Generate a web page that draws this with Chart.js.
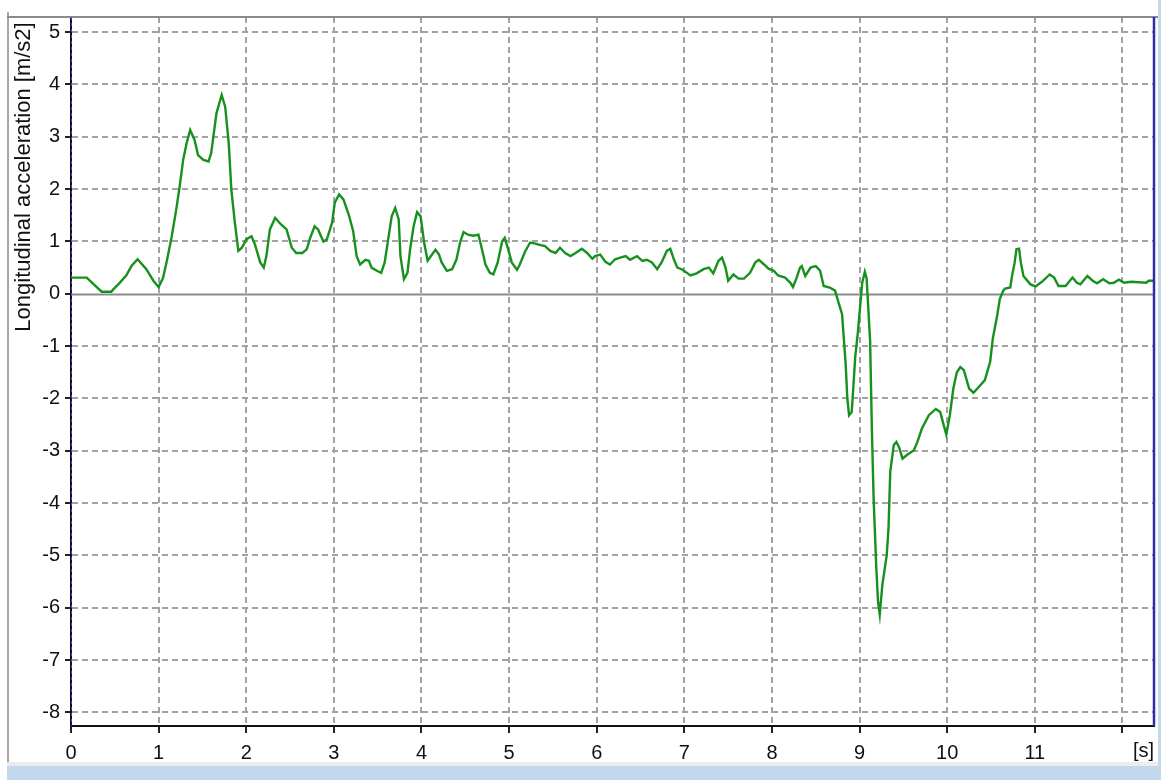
<!DOCTYPE html>
<html>
<head>
<meta charset="utf-8">
<script src="https://cdn.jsdelivr.net/npm/chart.js@4.4.1/dist/chart.umd.min.js"></script>
<style>
  html, body { margin: 0; padding: 0; background: #ffffff; width: 1161px; height: 780px; overflow: hidden; }
  #wrap { position: relative; width: 1161px; height: 780px; }
  #c { position: absolute; left: 0; top: 0; }
  .frame { position: absolute; }
</style>
</head>
<body>
<div id="wrap">
  <div class="frame" style="left:7px;top:12px;width:2px;height:751px;background:#a6a6a6;"></div>
  <div class="frame" style="left:7px;top:762px;width:1154px;height:4px;background:#ececec;"></div>
  <div class="frame" style="left:7px;top:766px;width:1154px;height:14px;background:#c3d7ee;"></div>
  <div class="frame" style="left:1158px;top:0px;width:3px;height:780px;background:#c3d7ee;"></div>
  <canvas id="c" width="1161" height="780"></canvas>
</div>
<script>
// ---- Data ----
const timeS = [
  0, 0.18, 0.26, 0.35, 0.46, 0.48, 0.55, 0.63, 0.69, 0.76, 0.86, 0.94, 1.0, 1.05, 1.09,
  1.15, 1.2, 1.24, 1.28, 1.32, 1.36, 1.41, 1.45, 1.51, 1.57, 1.6, 1.62, 1.66, 1.72, 1.76,
  1.8, 1.83, 1.87, 1.91, 1.95, 2.0, 2.06, 2.1, 2.16, 2.2, 2.23, 2.27, 2.33, 2.4, 2.46,
  2.52, 2.57, 2.64, 2.69, 2.73, 2.78, 2.82, 2.88, 2.92, 2.98, 3.01, 3.06, 3.11, 3.17, 3.22,
  3.26, 3.3, 3.36, 3.4, 3.43, 3.49, 3.54, 3.58, 3.62, 3.66, 3.7, 3.74, 3.76, 3.8, 3.84,
  3.87, 3.91, 3.95, 3.99, 4.03, 4.07, 4.12, 4.16, 4.2, 4.23, 4.29, 4.35, 4.4, 4.44, 4.48,
  4.53, 4.59, 4.65, 4.69, 4.73, 4.78, 4.82, 4.87, 4.92, 4.95, 4.99, 5.03, 5.09, 5.12, 5.18,
  5.24, 5.3, 5.36, 5.41, 5.47, 5.53, 5.58, 5.64, 5.7, 5.75, 5.83, 5.89, 5.95, 5.98, 6.04,
  6.1, 6.15, 6.21, 6.27, 6.33, 6.38, 6.46, 6.52, 6.57, 6.63, 6.69, 6.74, 6.8, 6.84, 6.88,
  6.92, 6.97, 7.03, 7.07, 7.14, 7.22, 7.28, 7.33, 7.39, 7.43, 7.47, 7.5, 7.56, 7.62, 7.68,
  7.75, 7.81, 7.85, 7.91, 7.96, 8.02, 8.07, 8.15, 8.21, 8.24, 8.28, 8.32, 8.34, 8.38, 8.44,
  8.5, 8.55, 8.59, 8.66, 8.72, 8.76, 8.8, 8.82, 8.84, 8.86, 8.88, 8.91, 8.93, 8.95, 8.98,
  9.0, 9.03, 9.06, 9.08, 9.09, 9.12, 9.14, 9.16, 9.19, 9.21, 9.23, 9.26, 9.31, 9.33, 9.35,
  9.39, 9.42, 9.45, 9.49, 9.54, 9.62, 9.66, 9.71, 9.79, 9.87, 9.92, 9.96, 9.99, 10.03, 10.07,
  10.11, 10.15, 10.19, 10.25, 10.3, 10.36, 10.43, 10.49, 10.52, 10.57, 10.6, 10.64, 10.66, 10.72, 10.74,
  10.77, 10.79, 10.82, 10.84, 10.87, 10.95, 11.01, 11.08, 11.17, 11.22, 11.27, 11.35, 11.43, 11.48, 11.52,
  11.6, 11.66, 11.71, 11.78, 11.85, 11.9, 11.96, 12.02, 12.1, 12.27, 12.3, 12.36
];
const accel = [
  0.31, 0.31, 0.18, 0.04, 0.04, 0.08, 0.2, 0.35, 0.53, 0.66, 0.47, 0.25, 0.13, 0.3, 0.6,
  1.1, 1.6, 2.05, 2.56, 2.88, 3.13, 2.94, 2.65, 2.56, 2.53, 2.69, 2.94, 3.45, 3.8, 3.57,
  2.88, 1.99, 1.36, 0.82, 0.88, 1.04, 1.1, 0.94, 0.6, 0.5, 0.72, 1.23, 1.45, 1.32, 1.23,
  0.88, 0.78, 0.78, 0.85, 1.07, 1.29, 1.23, 1.0, 1.04, 1.36, 1.74, 1.9, 1.8, 1.51, 1.2,
  0.72, 0.56, 0.65, 0.63, 0.5, 0.44, 0.4, 0.6, 1.04, 1.48, 1.64, 1.42, 0.72, 0.28, 0.4,
  0.85, 1.29, 1.56, 1.48, 0.98, 0.63, 0.75, 0.84, 0.75, 0.6, 0.44, 0.47, 0.66, 0.98, 1.18,
  1.13, 1.11, 1.13, 0.85, 0.56, 0.4, 0.37, 0.6, 1.0, 1.07, 0.85, 0.6, 0.46, 0.55, 0.8,
  0.98, 0.96, 0.93, 0.91, 0.82, 0.78, 0.88, 0.78, 0.72, 0.77, 0.86, 0.78, 0.67, 0.72, 0.75,
  0.61, 0.56, 0.66, 0.69, 0.72, 0.65, 0.72, 0.63, 0.65, 0.6, 0.47, 0.6, 0.82, 0.86, 0.66,
  0.5, 0.47, 0.4, 0.35, 0.39, 0.47, 0.5, 0.39, 0.63, 0.69, 0.5, 0.25, 0.37, 0.29, 0.29,
  0.4, 0.6, 0.65, 0.56, 0.48, 0.44, 0.35, 0.31, 0.21, 0.13, 0.3, 0.5, 0.53, 0.34, 0.5,
  0.53, 0.44, 0.15, 0.12, 0.06, -0.17, -0.39, -0.86, -1.31, -2.0, -2.32, -2.26, -1.75, -1.21, -0.74,
  -0.36, 0.21, 0.42, 0.3, 0.0, -0.9, -2.58, -3.91, -5.21, -5.88, -6.13, -5.56, -4.99, -4.48, -3.4,
  -2.89, -2.83, -2.93, -3.15, -3.08, -2.99, -2.83, -2.58, -2.32, -2.2, -2.26, -2.51, -2.69, -2.32, -1.81,
  -1.5, -1.4, -1.46, -1.81, -1.89, -1.78, -1.65, -1.3, -0.86, -0.42, -0.1, 0.06, 0.1, 0.12, 0.34,
  0.6, 0.85, 0.86, 0.6, 0.34, 0.18, 0.14, 0.23, 0.37, 0.31, 0.15, 0.15, 0.31, 0.21, 0.18,
  0.34, 0.25, 0.2, 0.28, 0.2, 0.21, 0.27, 0.21, 0.23, 0.21, 0.25, 0.25
];
const xTickValues = [0, 1, 2, 3, 4, 5, 6, 7, 8, 9, 10, 11, 12];
const xTickLabels = ['0', '1', '2', '3', '4', '5', '6', '7', '8', '9', '10', '11', ''];
const xUnitLabel = '[s]';
const yTickValues = [-8, -7, -6, -5, -4, -3, -2, -1, 0, 1, 2, 3, 4, 5];
const yTitle = 'Longitudinal acceleration [m/s2]';
const xRange = [0, 12.36];
const yRange = [-8.26, 5.29];

// ---- Chart ----
const FONT = 'Liberation Sans, Arial, sans-serif';
const points = timeS.map((t, i) => ({ x: t, y: accel[i] }));

const extras = {
  id: 'extras',
  beforeDatasetsDraw(chart) {
    const { ctx, chartArea: a, scales: { y } } = chart;
    const y0 = Math.round(y.getPixelForValue(0)) + 0.5;
    ctx.save();
    ctx.strokeStyle = '#8c8c8c';
    ctx.lineWidth = 2;
    ctx.beginPath();
    ctx.moveTo(a.left, y0);
    ctx.lineTo(a.right, y0);
    ctx.stroke();
    ctx.restore();
  },
  afterDraw(chart) {
    const { ctx, chartArea: a } = chart;
    ctx.save();
    // top frame line
    ctx.strokeStyle = '#8a8a8a';
    ctx.lineWidth = 2;
    ctx.beginPath();
    ctx.moveTo(7, a.top);
    ctx.lineTo(1158, a.top);
    ctx.stroke();
    // right blue edge
    ctx.strokeStyle = '#2e2ea8';
    ctx.lineWidth = 2.5;
    ctx.beginPath();
    ctx.moveTo(a.right, a.top);
    ctx.lineTo(a.right, a.bottom);
    ctx.stroke();
    // blue dashes over left axis
    ctx.strokeStyle = '#3a3aff';
    ctx.lineWidth = 1;
    ctx.setLineDash([3, 3]);
    ctx.beginPath();
    ctx.moveTo(a.left + 0.5, a.top);
    ctx.lineTo(a.left + 0.5, a.bottom);
    ctx.stroke();
    ctx.setLineDash([]);
    // unit label at right end of x axis
    ctx.fillStyle = '#111';
    ctx.font = '20px ' + FONT;
    ctx.textAlign = 'right';
    ctx.textBaseline = 'top';
    ctx.fillText(xUnitLabel, a.right, a.bottom + 15);
    // y axis title
    ctx.translate(24, 177);
    ctx.rotate(-Math.PI / 2);
    ctx.font = '22px ' + FONT;
    ctx.textAlign = 'center';
    ctx.textBaseline = 'middle';
    ctx.fillText(yTitle, 0, 0);
    ctx.restore();
  }
};

new Chart(document.getElementById('c'), {
  type: 'line',
  data: {
    datasets: [{
      data: points,
      borderColor: '#17911d',
      borderWidth: 2.4,
      pointRadius: 0,
      tension: 0,
      fill: false
    }]
  },
  options: {
    responsive: false,
    animation: false,
    parsing: false,
    layout: { padding: { top: 13, right: 7, left: 0, bottom: 0 } },
    plugins: { legend: { display: false }, tooltip: { enabled: false } },
    scales: {
      x: {
        type: 'linear',
        min: xRange[0],
        max: xRange[1],
        afterBuildTicks: s => { s.ticks = xTickValues.map(v => ({ value: v })); },
        afterFit: s => { s.height = 54; },
        ticks: {
          callback: (v) => { const i = xTickValues.indexOf(v); return i >= 0 ? xTickLabels[i] : ''; },
          font: { family: FONT, size: 20 },
          color: '#111',
          padding: 8,
          maxRotation: 0,
          autoSkip: false
        },
        grid: {
          color: c => (c.tick && c.tick.value === 0) ? 'rgba(0,0,0,0)' : '#a2a2a2',
          lineWidth: 2,
          tickColor: '#222',
          tickLength: 7,
          tickWidth: 2
        },
        border: { display: true, color: '#111', width: 2, dash: [6, 4] }
      },
      y: {
        type: 'linear',
        min: yRange[0],
        max: yRange[1],
        afterBuildTicks: s => { s.ticks = yTickValues.map(v => ({ value: v })); },
        afterFit: s => { s.width = 71; },
        ticks: {
          callback: v => String(v),
          font: { family: FONT, size: 20 },
          color: '#111',
          padding: 5,
          autoSkip: false
        },
        grid: {
          color: c => (c.tick && c.tick.value === 0) ? 'rgba(0,0,0,0)' : '#a2a2a2',
          lineWidth: 2,
          tickColor: '#222',
          tickLength: 6,
          tickWidth: 2
        },
        border: { display: true, color: '#111', width: 2, dash: [6, 4] }
      }
    }
  },
  plugins: [extras]
});
</script>
</body>
</html>
